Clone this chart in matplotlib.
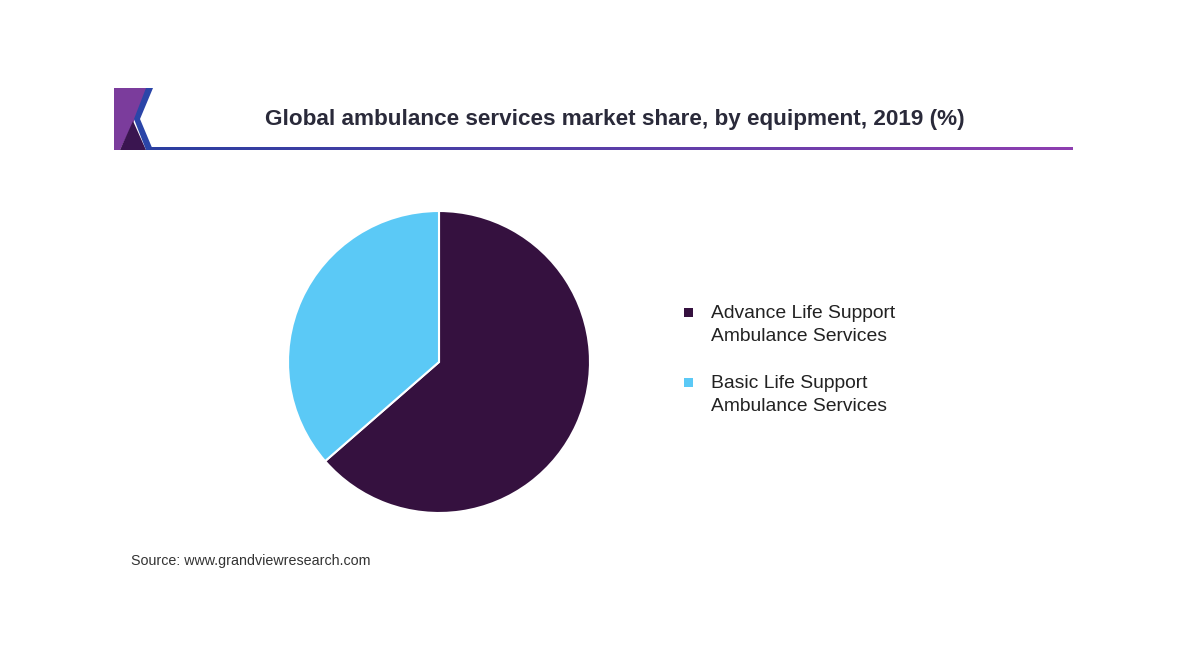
import matplotlib.pyplot as plt
from matplotlib.patches import Polygon, Rectangle
from matplotlib.colors import LinearSegmentedColormap
import numpy as np

plt.rcParams['font.family'] = ['Liberation Sans', 'DejaVu Sans']

# data
categories = ['Advance Life Support\nAmbulance Services',
              'Basic Life Support\nAmbulance Services']
shares = [63.6, 36.4]
colors = ['#35113F', '#5BC9F6']

W, H = 1200, 650
fig = plt.figure(figsize=(W / 100, H / 100), dpi=100)
fig.patch.set_facecolor('white')

# overlay axes in pixel coords (y downwards)
bg = fig.add_axes([0, 0, 1, 1])
bg.axis('off')

# logo block
bg.add_patch(Polygon([(114, 88), (148, 88), (135, 119), (120, 150), (114, 150)],
                     closed=True, facecolor='#7B3C9C', edgecolor='none'))
bg.add_patch(Polygon([(120, 150), (133, 121), (146, 150)],
                     closed=True, facecolor='#3A1550', edgecolor='none'))
bg.add_patch(Polygon([(146, 88), (153, 88), (140, 119), (153, 150), (146, 150), (134, 119)],
                     closed=True, facecolor='#2B45A8', edgecolor='none'))

# gradient underline
grad = np.linspace(0, 1, 256).reshape(1, -1)
cmap = LinearSegmentedColormap.from_list('ul', ['#2B3FA0', '#5A3EA8', '#8E3EB0'])
bg.imshow(grad, cmap=cmap, aspect='auto', extent=(150, 1073, 150.2, 147.8),
          interpolation='bilinear', zorder=2)
bg.set_xlim(0, W)
bg.set_ylim(H, 0)

bg.text(615, 119, 'Global ambulance services market share, by equipment, 2019 (%)',
        ha='center', va='center', fontsize=16.2, fontweight='bold', color='#2A2A3A')

bg.text(131, 561, 'Source: www.grandviewresearch.com', ha='left', va='center',
        fontsize=10.3, color='#333333')

# pie
ax = fig.add_axes([288 / W, 1 - 513 / H, 302 / W, 302 / H])
wedges, _ = ax.pie(shares, colors=colors, startangle=90, counterclock=False,
                   wedgeprops=dict(edgecolor='white', linewidth=1.5))
ax.set_xlim(-1.0, 1.0)
ax.set_ylim(-1.0, 1.0)
ax.set_aspect('equal')

# legend drawn by hand: square marker + two-line label
for i, (lab, col) in enumerate(zip(categories, colors)):
    y = 313 + i * 70
    bg.add_patch(Rectangle((684, y - 5), 9, 9, facecolor=col, edgecolor='none'))
    bg.text(711, y - 8, lab, ha='left', va='top', fontsize=13.9,
            color='#222222', linespacing=1.45)

fig.savefig('out.png', dpi=100, facecolor='white')
